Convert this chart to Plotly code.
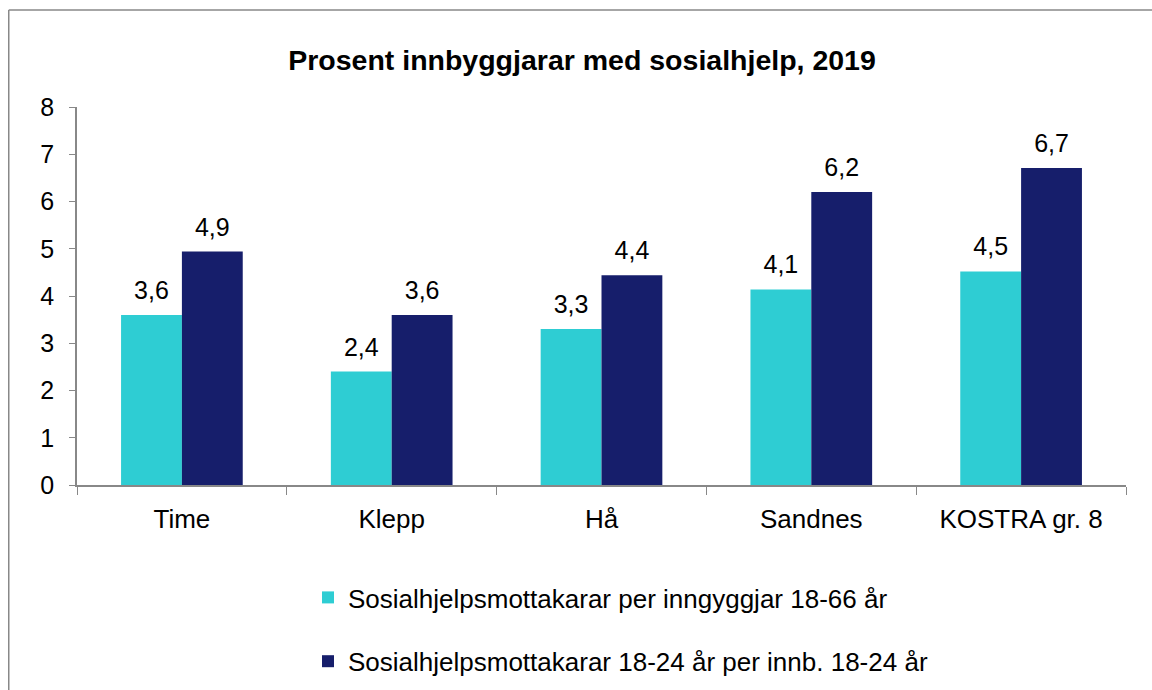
import plotly.graph_objects as go

categories = ["Time", "Klepp", "Hå", "Sandnes", "KOSTRA gr. 8"]
series1_name = "Sosialhjelpsmottakarar per inngyggjar 18-66 år"
series1 = [3.6, 2.4, 3.3, 4.14, 4.52]
series2_name = "Sosialhjelpsmottakarar 18-24 år per innb. 18-24 år"
series2 = [4.94, 3.6, 4.44, 6.2, 6.71]
y_ticks = [0, 1, 2, 3, 4, 5, 6, 7, 8]

FONT = "Liberation Sans, Arial, sans-serif"
C1, C2 = "#2ECDD3", "#161E6B"

W, H = 1152, 690
L, T = 77, 107
PR, PB = 1126, 485
R, B = W - PR, H - PB
pw, ph = PR - L, PB - T

fig = go.Figure()
for name, vals, col, grp in [(series1_name, series1, C1, "a"), (series2_name, series2, C2, "b")]:
    fig.add_trace(go.Bar(x=categories, y=vals, name=name,
                         marker=dict(color=col, line=dict(width=0)),
                         offsetgroup=grp, legendgroup=grp, hoverinfo="x+y"))
for vals, grp in [(series1, "a"), (series2, "b")]:
    fig.add_trace(go.Scatter(x=categories, y=vals, mode="markers+text",
                             texttemplate="%{y:.1f}", textposition="top center",
                             textfont=dict(size=25, color="#000"),
                             marker=dict(size=14, opacity=0),
                             offsetgroup=grp, showlegend=False, cliponaxis=False,
                             hoverinfo="skip"))

fig.update_layout(
    width=W, height=H,
    margin=dict(l=L, r=R, t=T, b=B, pad=0, autoexpand=False),
    paper_bgcolor="white", plot_bgcolor="white",
    font=dict(family=FONT, size=25, color="#000"),
    separators=", ",
    barmode="group", bargap=0.42, bargroupgap=0,
    scattermode="group", scattergap=0.42,
    title=dict(text="<b>Prosent innbyggjarar med sosialhjelp, 2019</b>",
               x=582 / W, xanchor="center", y=1 - 60 / H, yanchor="middle",
               font=dict(size=28.5, family=FONT, color="#000")),
    xaxis=dict(showline=True, linecolor="#888", linewidth=1.5, automargin=False,
               ticks="outside", tickson="boundaries", ticklen=8, tickcolor="#888",
               tickfont=dict(size=26), showgrid=False, ticklabelstandoff=10),
    yaxis=dict(range=[0, 8], tickvals=y_ticks, showline=True, linecolor="#888",
               linewidth=1.5, ticks="outside", ticklen=6, tickcolor="#888",
               tickfont=dict(size=25), showgrid=False, zeroline=False,
               ticklabelstandoff=10, automargin=False),
    legend=dict(orientation="v", xref="container", yref="container",
                x=308 / W, xanchor="left",
                y=1 - 574 / H, yanchor="top",
                font=dict(size=26), tracegroupgap=27, bgcolor="rgba(0,0,0,0)"),
    showlegend=True,
)

line_style = dict(color="#888", width=1.5)
fig.add_shape(type="line", xref="paper", yref="paper",
              x0=(8.75 - L) / pw, x1=(8.75 - L) / pw,
              y0=-(800 - PB) / ph, y1=(PB - 10) / ph,
              line=line_style, layer="below")
fig.add_shape(type="line", xref="paper", yref="paper",
              x0=(8.75 - L) / pw, x1=(1300 - L) / pw,
              y0=(PB - 10) / ph, y1=(PB - 10) / ph,
              line=line_style, layer="below")

fig.write_html(
    "out.html",
    config={"displayModeBar": False},
    post_script=(
        "document.body.style.margin='0';"
        "document.body.style.overflow='hidden';"
        "document.documentElement.style.overflow='hidden';"
    ),
)
